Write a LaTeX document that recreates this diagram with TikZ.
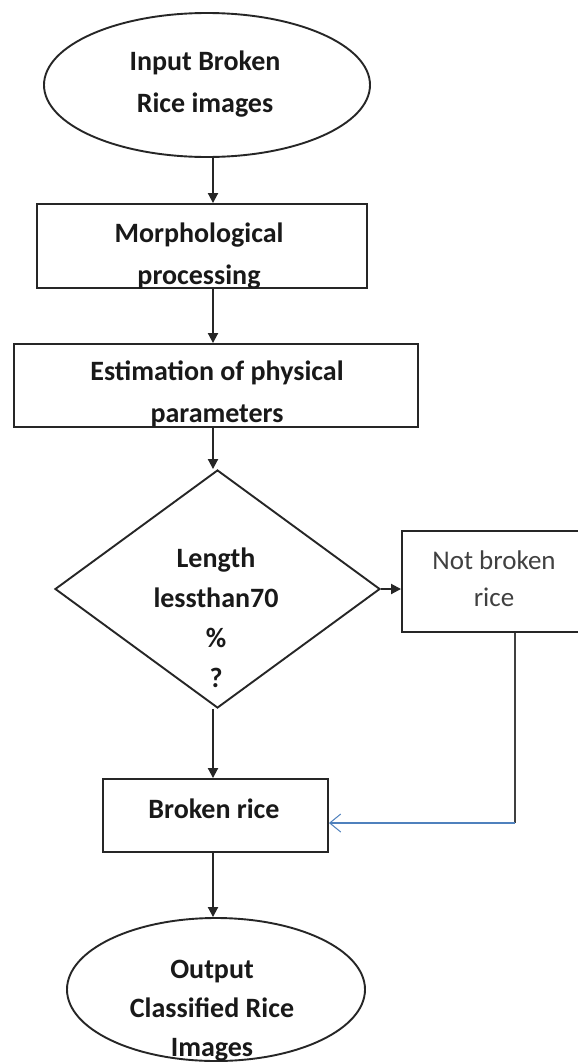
\documentclass[tikz,border=0pt]{standalone}
\usepackage{fontspec}
\setmainfont{Carlito}
\usetikzlibrary{shapes.geometric,arrows.meta}
\definecolor{linkblue}{HTML}{4F81BD}
\tikzset{
  shapeline/.style={draw=black!85, line width=1.9pt},
  ell/.style={shapeline, ellipse, inner sep=0pt},
  boxnode/.style={shapeline, rectangle, inner sep=0pt},
  dia/.style={shapeline, diamond, inner sep=0pt},
  txt/.style={align=center, inner sep=0pt, text=black!90, font=\bfseries\fontsize{28}{42}\selectfont},
  arr/.style={draw=black!85, line width=1.9pt, -{Triangle[length=10pt,width=10pt]}},
  bluearr/.style={draw=linkblue, line width=1.4pt, -{Straight Barb[length=11pt,width=18pt,line width=1pt]}},
}
\begin{document}
\begin{tikzpicture}[x=1pt,y=-1pt]
\path[use as bounding box, clip] (0,0) rectangle (578,1063);
\fill[white] (0,0) rectangle (578,1063);
% shapes
\node[ell, minimum width=326pt, minimum height=144pt] (inp) at (207,85) {};
\node[boxnode, minimum width=330pt, minimum height=84pt] (morph) at (202,246) {};
\node[boxnode, minimum width=404pt, minimum height=83pt] (est) at (216,385.5) {};
\node[dia, minimum width=325pt, minimum height=238pt] (dec) at (217.5,589) {};
\node[boxnode, minimum width=190pt, minimum height=101pt] (nb) at (497,581.5) {};
\node[boxnode, minimum width=225pt, minimum height=73pt] (br) at (215.5,815.5) {};
\node[ell, minimum width=298pt, minimum height=143pt] (outp) at (216,989.5) {};
% texts
\node[txt] (tinp) at (205,84) {Input Broken\\Rice images};
\node[txt] (tmorph) at (199,256) {Morphological\\processing};
\node[txt] (test) at (217,394) {Estimation of physical\\parameters};
\node[txt, font=\bfseries\fontsize{28}{40}\selectfont] (tdec) at (216,617.5) {Length\\lessthan70\\\%\\?};
\node[txt, font=\fontsize{27}{37}\selectfont, text=black!75] (tnb) at (494,578.5) {Not broken\\rice};
\node[txt] (tbr) at (214,809) {Broken rice};
\node[txt, font=\bfseries\fontsize{28}{39}\selectfont] (toutp) at (212,1011) {Output\\Classified Rice\\Images};
% connectors
\coordinate (colx) at (213,0);
\coordinate (corner) at (515,823);
\draw[arr] (inp.south -| colx) -- (morph.north -| colx);
\draw[arr] (morph.south -| colx) -- (est.north -| colx);
\draw[arr] (est.south -| colx) -- (dec.north -| colx);
\draw[arr] (dec.east) -- (dec.east -| nb.west);
\draw[arr] (dec.south -| colx) -- (br.north -| colx);
\draw[arr] (br.south -| colx) -- (outp.north -| colx);
\draw[draw=black!75, line width=1.9pt] (nb.south -| corner) -- (corner);
\draw[bluearr] (corner) -- (br.east |- corner);
\end{tikzpicture}
\end{document}
